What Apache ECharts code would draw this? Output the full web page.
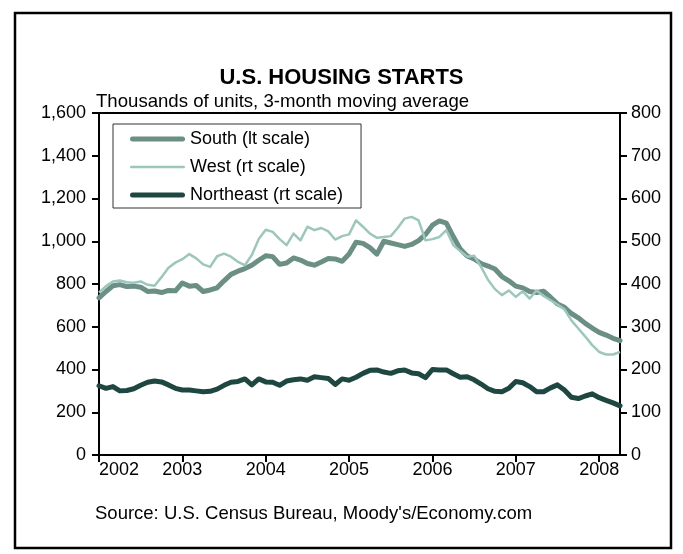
<!DOCTYPE html>
<html lang="en">
<head>
    <meta charset="UTF-8">
    <title>U.S. Housing Starts</title>
    <script src="https://cdn.jsdelivr.net/npm/echarts@6.0.0/dist/echarts.min.js"></script>
    <style>
        body {
            margin: 0;
            background-color: #fff;
        }
        #chart-container {
            width: 683px;
            height: 554px;
        }
    </style>
</head>
<body>
    <div id="chart-container"></div>

    <script>
        // monthly data, Jan 2002 .. Apr 2008, 3-month moving average
        var startYear = 2002;
        var yearTicks = [2002, 2003, 2004, 2005, 2006, 2007, 2008];
        var seriesNames = ['South (lt scale)', 'West (rt scale)', 'Northeast (rt scale)'];

        var south = [735,765,792,797,788,790,785,765,767,760,
                     770,768,805,790,793,765,772,782,815,845,
                     860,872,888,911,932,928,892,898,922,912,
                     896,888,903,919,917,906,940,995,990,970,
                     940,1000,992,984,976,985,1003,1032,1075,1095,
                     1085,1022,964,931,917,896,884,870,835,815,
                     790,782,765,760,766,738,707,691,662,642,
                     616,594,574,561,546,535];

        var west = [380,395,406,408,404,403,406,398,396,416,
                    438,450,458,470,460,446,440,465,471,464,
                    452,444,468,505,527,522,505,491,518,502,
                    534,526,531,523,504,512,516,549,534,518,
                    508,510,512,531,553,557,549,502,505,510,
                    526,491,477,464,466,440,410,388,374,385,
                    370,383,366,385,372,362,352,341,315,296,
                    277,257,241,235,235,241];

        var northeast = [162,156,160,150,151,155,163,170,173,171,
                         164,156,152,152,150,148,149,154,163,170,
                         172,178,164,178,171,170,163,173,176,178,
                         175,183,181,179,165,178,175,182,191,198,
                         199,194,191,197,199,192,190,181,200,199,
                         199,190,182,183,176,166,155,149,148,156,
                         172,169,160,148,148,157,164,152,135,132,
                         138,143,134,128,122,115];

        var colors = ['#6b8e85', '#9dc6bc', '#1f4741'];

        function toPoints(arr) {
            return arr.map(function (v, i) {
                return [startYear + i / 12, v];
            });
        }

        var fontFamily = "'Liberation Sans', Arial, sans-serif";
        var myChart = echarts.init(document.getElementById('chart-container'));

        var option = {
            animation: false,
            textStyle: { fontFamily: fontFamily, color: '#000' },
            title: {
                text: 'U.S. HOUSING STARTS',
                left: 'center',
                top: 67,
                padding: 0,
                textStyle: { fontSize: 22, fontWeight: 'bold', color: '#000', lineHeight: 22, fontFamily: fontFamily }
            },
            graphic: [
                {
                    type: 'rect',
                    shape: { x: 15, y: 13, width: 656, height: 535 },
                    style: { fill: 'none', stroke: '#000', lineWidth: 2.5 },
                    silent: true
                },
                {
                    type: 'text',
                    left: 96,
                    top: 92,
                    style: { text: 'Thousands of units, 3-month moving average', fontSize: 18.6, fill: '#000', fontFamily: fontFamily }
                },
                {
                    type: 'text',
                    left: 95,
                    top: 504,
                    style: { text: "Source: U.S. Census Bureau, Moody's/Economy.com", fontSize: 18.5, fill: '#000', fontFamily: fontFamily }
                }
            ],
            legend: {
                orient: 'vertical',
                left: 113,
                top: 124,
                padding: [6, 18, 4, 17],
                itemGap: 10,
                itemWidth: 55,
                itemHeight: 5,
                borderColor: '#333',
                borderWidth: 1,
                backgroundColor: '#fff',
                selectedMode: false,
                textStyle: { fontSize: 18, lineHeight: 18, color: '#000', fontFamily: fontFamily },
                data: [
                    { name: seriesNames[0], icon: 'path://M2.5,0H52.5A2.5,2.5,0,0,1,52.5,5H2.5A2.5,2.5,0,0,1,2.5,0Z' },
                    { name: seriesNames[1], icon: 'path://M1.25,0H53.75A1.25,1.25,0,0,1,53.75,2.5H1.25A1.25,1.25,0,0,1,1.25,0Z' },
                    { name: seriesNames[2], icon: 'path://M2.5,0H52.5A2.5,2.5,0,0,1,52.5,5H2.5A2.5,2.5,0,0,1,2.5,0Z' }
                ]
            },
            grid: {
                left: 99,
                right: 63,
                top: 113,
                bottom: 99,
                outerBoundsMode: 'none',
                show: true,
                borderColor: '#000',
                borderWidth: 2,
                backgroundColor: 'transparent'
            },
            xAxis: {
                type: 'value',
                min: yearTicks[0],
                max: 2008.25,
                interval: 1,
                axisLine: { show: true, lineStyle: { color: '#000', width: 2 } },
                axisTick: { show: true, inside: false, length: 7, lineStyle: { color: '#000', width: 2 } },
                splitLine: { show: false },
                axisLabel: {
                    fontSize: 18,
                    color: '#000',
                    margin: 6,
                    showMaxLabel: false,
                    alignMinLabel: 'left',
                    formatter: function (v) {
                        return yearTicks.indexOf(Math.round(v * 1000) / 1000) >= 0 ? String(v) : '';
                    }
                }
            },
            yAxis: [
                {
                    type: 'value',
                    min: 0,
                    max: 1600,
                    interval: 200,
                    position: 'left',
                    axisLine: { show: true, lineStyle: { color: '#000', width: 2 } },
                    axisTick: { show: true, inside: false, length: 7, lineStyle: { color: '#000', width: 2 } },
                    splitLine: { show: false },
                    axisLabel: {
                        fontSize: 18,
                        color: '#000',
                        margin: 13,
                        formatter: function (v) { return v.toLocaleString('en-US'); }
                    }
                },
                {
                    type: 'value',
                    min: 0,
                    max: 800,
                    interval: 100,
                    position: 'right',
                    axisLine: { show: true, lineStyle: { color: '#000', width: 2 } },
                    axisTick: { show: true, inside: false, length: 7, lineStyle: { color: '#000', width: 2 } },
                    splitLine: { show: false },
                    axisLabel: { fontSize: 18, color: '#000', margin: 11 }
                }
            ],
            series: [
                {
                    name: seriesNames[0],
                    type: 'line',
                    yAxisIndex: 0,
                    symbol: 'none',
                    color: colors[0],
                    lineStyle: { width: 5, color: colors[0], join: 'round', cap: 'round' },
                    data: toPoints(south)
                },
                {
                    name: seriesNames[1],
                    type: 'line',
                    yAxisIndex: 1,
                    symbol: 'none',
                    color: colors[1],
                    lineStyle: { width: 2.5, color: colors[1], join: 'round' },
                    data: toPoints(west)
                },
                {
                    name: seriesNames[2],
                    type: 'line',
                    yAxisIndex: 1,
                    symbol: 'none',
                    color: colors[2],
                    lineStyle: { width: 5, color: colors[2], join: 'round', cap: 'round' },
                    data: toPoints(northeast)
                }
            ]
        };

        myChart.setOption(option);
    </script>
</body>
</html>
